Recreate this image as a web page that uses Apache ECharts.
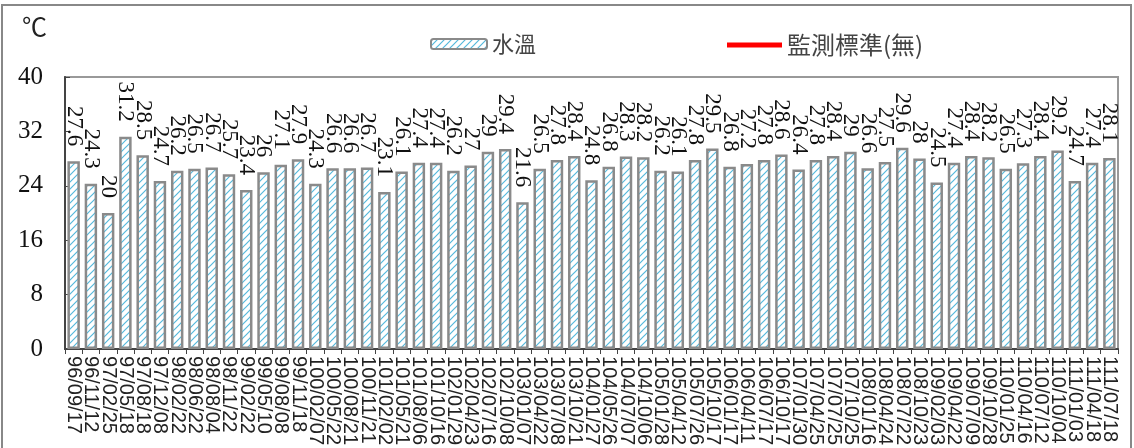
<!DOCTYPE html>
<html>
<head>
<meta charset="utf-8">
<script src="https://cdn.jsdelivr.net/npm/echarts@6/dist/echarts.min.js"></script>
<style>
  html, body { margin: 0; padding: 0; background: #fff; }
  #main { width: 1134px; height: 448px; }
</style>
</head>
<body>
<div id="main"></div>
<script>
// 採樣日期
var dates = [
  '96/09/17', '96/11/12', '97/02/25', '97/05/18', '97/08/18', '97/12/08',
  '98/02/22', '98/06/22', '98/08/04', '98/11/22', '99/02/22', '99/05/10',
  '99/08/08', '99/11/18', '100/02/07', '100/05/22', '100/08/21', '100/11/21',
  '101/02/02', '101/05/21', '101/08/06', '101/10/16', '102/01/29', '102/04/23',
  '102/07/16', '102/10/08', '103/01/07', '103/04/22', '103/07/08', '103/10/21',
  '104/01/27', '104/05/26', '104/07/07', '104/10/06', '105/01/28', '105/04/12',
  '105/07/26', '105/10/17', '106/01/17', '106/04/11', '106/07/17', '106/10/17',
  '107/01/30', '107/04/25', '107/07/25', '107/10/25', '108/01/16', '108/04/24',
  '108/07/22', '108/10/23', '109/02/03', '109/04/22', '109/07/09', '109/10/28',
  '110/01/25', '110/04/16', '110/07/12', '110/10/04', '111/01/03', '111/04/18',
  '111/07/18'
];
// 水溫 (℃)
var waterTemp = [
  27.6, 24.3, 20, 31.2, 28.5, 24.7,
  26.2, 26.5, 26.7, 25.7, 23.4, 26,
  27.1, 27.9, 24.3, 26.6, 26.6, 26.7,
  23.1, 26.1, 27.4, 27.4, 26.2, 27,
  29, 29.4, 21.6, 26.5, 27.8, 28.4,
  24.8, 26.8, 28.3, 28.2, 26.2, 26.1,
  27.8, 29.5, 26.8, 27.2, 27.8, 28.6,
  26.4, 27.8, 28.4, 29, 26.6, 27.5,
  29.6, 28, 24.5, 27.4, 28.4, 28.2,
  26.5, 27.3, 28.4, 29.2, 24.7, 27.4,
  28.1
];
// 監測標準 (無)
var standard = [];
var yTicks = [0, 8, 16, 24, 32, 40];

// 斜線底紋
function makeHatch() {
  var c = document.createElement('canvas');
  c.width = 7; c.height = 7;
  var ctx = c.getContext('2d');
  ctx.fillStyle = '#ffffff';
  ctx.fillRect(0, 0, 7, 7);
  ctx.strokeStyle = '#55b9dc';
  ctx.lineWidth = 1.2;
  ctx.beginPath();
  ctx.moveTo(0, 7); ctx.lineTo(7, 0);
  ctx.moveTo(-1, 1); ctx.lineTo(1, -1);
  ctx.moveTo(6, 8); ctx.lineTo(8, 6);
  ctx.stroke();
  return c;
}

var myChart = echarts.init(document.getElementById('main'));

var option = {
  backgroundColor: '#fff',
  animation: false,
  graphic: [
    {
      type: 'rect',
      shape: { x: 2, y: 5, width: 1129, height: 460 },
      style: { fill: 'none', stroke: '#888', lineWidth: 2 }
    },
    {
      type: 'text',
      left: 22, top: 17,
      style: { text: '℃', font: '25px "Liberation Serif", "Noto Sans CJK TC"', fill: '#222' }
    }
  ],
  legend: [
    {
      data: ['水溫'],
      left: 425, top: 28,
      itemWidth: 56, itemHeight: 10,
      textStyle: { fontFamily: 'Noto Sans CJK TC', fontSize: 22, color: '#444' }
    },
    {
      data: [{ name: '監測標準(無)', icon: 'rect' }],
      left: 722, top: 28,
      itemWidth: 55, itemHeight: 5,
      textStyle: { fontFamily: 'Noto Sans CJK TC', fontSize: 24, color: '#444' }
    }
  ],
  grid: {
    left: 65, right: 16, top: 77, bottom: 95,
    show: true, borderColor: '#999', borderWidth: 2
  },
  xAxis: {
    type: 'category',
    data: dates,
    axisLine: { lineStyle: { color: '#444', width: 2 } },
    axisTick: { show: true, length: 5, lineStyle: { color: '#444' } },
    axisLabel: {
      interval: 0, rotate: -90, margin: 7,
      fontFamily: 'Liberation Sans', fontSize: 20, color: '#222'
    }
  },
  yAxis: {
    type: 'value',
    min: yTicks[0], max: yTicks[yTicks.length - 1], interval: 8,
    splitLine: { show: false },
    axisLine: { show: true, lineStyle: { color: '#444', width: 2 } },
    axisTick: { show: true, inside: true, length: 5, lineStyle: { color: '#444' } },
    axisLabel: { fontFamily: 'Liberation Serif', fontSize: 25, color: '#111', margin: 22 }
  },
  series: [
    {
      name: '水溫',
      type: 'bar',
      data: waterTemp,
      barWidth: '72%',
      itemStyle: {
        color: { image: makeHatch(), repeat: 'repeat' },
        borderColor: '#8a8a8a',
        borderWidth: 2.5
      },
      label: {
        show: true,
        position: 'top',
        rotate: -90,
        align: 'right',
        verticalAlign: 'middle',
        distance: 15,
        fontFamily: 'Liberation Serif',
        fontSize: 23,
        color: '#111'
      }
    },
    {
      name: '監測標準(無)',
      type: 'line',
      data: standard,
      symbol: 'none',
      itemStyle: { color: '#f00' },
      lineStyle: { color: '#f00', width: 4 }
    }
  ]
};

if (option && typeof option === 'object') {
  myChart.setOption(option);
}
</script>
</body>
</html>
